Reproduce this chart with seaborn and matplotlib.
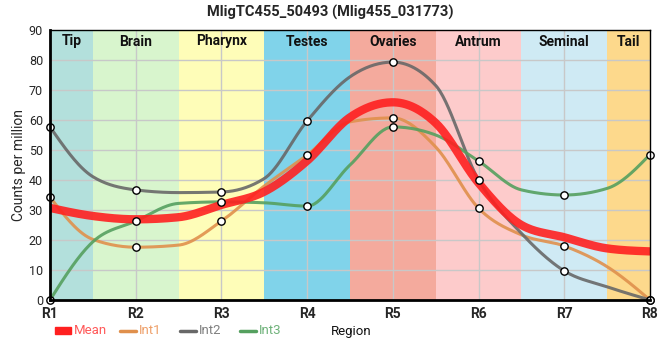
import numpy as np
import pandas as pd
import seaborn as sns
import matplotlib
matplotlib.use("Agg")
import matplotlib.pyplot as plt
from matplotlib.patches import Rectangle

# Data
regions = ["R1", "R2", "R3", "R4", "R5", "R6", "R7", "R8"]
mean = [30.7, 26.9, 31.7, 46.4, 65.9, 39.0, 20.9, 16.2]
int1 = [34.3, 17.6, 26.3, 48.3, 60.7, 30.6, 18.0, 0.0]
int2 = [57.7, 36.7, 36.0, 59.7, 79.3, 40.0, 9.7, 0.0]
int3 = [0.0, 26.3, 32.7, 31.3, 57.7, 46.3, 35.0, 48.5]

# line values read at the region borders (R1.5 ... R7.5)
mean_edge = [28.0, 27.6, 36.1, 60.9, 59.0, 25.0, 17.2]
int1_edge = [20.2, 18.3, 38.0, 59.4, 51.0, 21.7, 11.1]
int2_edge = [41.1, 35.8, 40.5, 74.4, 71.5, 22.2, 4.4]
int3_edge = [19.4, 32.2, 32.4, 45.0, 55.0, 36.7, 37.2]

band_names = ["Tip", "Brain", "Pharynx", "Testes", "Ovaries", "Antrum", "Seminal", "Tail"]
band_colors = ["#b3e0dc", "#d8f5cd", "#fefdb8", "#80d3ea", "#f4aa9d", "#fdcbcb", "#cfeaf4", "#fdd98c"]

series = {"Mean": (mean, mean_edge), "Int1": (int1, int1_edge),
          "Int2": (int2, int2_edge), "Int3": (int3, int3_edge)}
colors = {"Mean": "#ff2020", "Int1": "#e0904c", "Int2": "#686868", "Int3": "#55a05f"}
text_colors = {"Mean": "#ff5a5a", "Int1": "#eea06a", "Int2": "#808080", "Int3": "#6fb27a"}
widths = {"Mean": 6.0, "Int1": 2.2, "Int2": 2.2, "Int3": 2.2}


def monotone_path(xk, yk, n=30):
    # monotone cubic like d3.curveMonotoneX
    xk = np.asarray(xk, float)
    yk = np.asarray(yk, float)
    h = np.diff(xk)
    s = np.diff(yk) / h
    k = len(yk)
    m = np.zeros(k)
    for i in range(1, k - 1):
        p = (s[i - 1] * h[i] + s[i] * h[i - 1]) / (h[i - 1] + h[i])
        if s[i - 1] * s[i] > 0:
            m[i] = np.sign(s[i]) * min(abs(s[i - 1]), abs(s[i]), 0.5 * abs(p)) * 2
    m[0] = (3 * s[0] - m[1]) / 2
    m[-1] = (3 * s[-1] - m[-2]) / 2
    xs, ys = [], []
    t = np.linspace(0, 1, n, endpoint=False)
    for i in range(k - 1):
        h00 = 2 * t**3 - 3 * t**2 + 1
        h10 = t**3 - 2 * t**2 + t
        h01 = -2 * t**3 + 3 * t**2
        h11 = t**3 - t**2
        xs.append(xk[i] + t * h[i])
        ys.append(h00 * yk[i] + h10 * h[i] * m[i] + h01 * yk[i + 1] + h11 * h[i] * m[i + 1])
    xs.append([xk[-1]])
    ys.append([yk[-1]])
    return np.concatenate(xs), np.concatenate(ys)


rows = []
for name, (vals, edge) in series.items():
    xk, yk = [], []
    for i, v in enumerate(vals):
        xk.append(i)
        yk.append(v)
        if i < len(edge):
            xk.append(i + 0.5)
            yk.append(edge[i])
    xs, ys = monotone_path(xk, yk)
    for a, b in zip(xs, ys):
        rows.append({"x": a, "y": b, "series": name})
curves = pd.DataFrame(rows)

sns.set_style("white")
plt.rcParams["font.family"] = ["Roboto", "DejaVu Sans"]

fig = plt.figure(figsize=(6.6, 3.6), dpi=100)
ax = fig.add_axes([50 / 660, 60 / 360, 600 / 660, 270 / 360])

# region bands
edges = [0] + [i + 0.5 for i in range(7)] + [7]
for i, (nm, c) in enumerate(zip(band_names, band_colors)):
    ax.axvspan(edges[i], edges[i + 1], color=c, lw=0, zorder=0)
    ax.text((edges[i] + edges[i + 1]) / 2, 88.5, nm, ha="center", va="top",
            fontsize=10, fontweight="bold", color="#111111", zorder=5)

for v in range(10, 90, 10):
    ax.axhline(v, color="#c8c8c8", lw=1, zorder=1)
for v in range(1, 7):
    ax.axvline(v, color="#c8c8c8", lw=1, zorder=1)

for name in ["Int1", "Int2", "Int3", "Mean"]:
    sub = curves[curves["series"] == name]
    sns.lineplot(data=sub, x="x", y="y", ax=ax, color=colors[name],
                 lw=widths[name], alpha=0.9, sort=False, estimator=None, zorder=3)

for name in ["Int1", "Int2", "Int3"]:
    pts = pd.DataFrame({"x": np.arange(len(regions)), "y": series[name][0]})
    sns.scatterplot(data=pts, x="x", y="y", ax=ax, s=28, facecolor="white",
                    edgecolor="black", linewidth=1, zorder=4, clip_on=False)

ax.set_xlim(0, 7)
ax.set_ylim(0, 90)
ax.set_xticks(range(len(regions)))
ax.set_xticklabels(regions, fontsize=10, fontweight="bold")
ax.set_yticks(range(0, 91, 10))
ax.tick_params(axis="y", labelsize=9, length=4, width=1, pad=1)
ax.tick_params(axis="x", length=4, width=1, pad=1)
ax.set_xlabel("")
ax.set_ylabel("Counts per million", fontsize=10, labelpad=2)
for s in ["left", "bottom"]:
    ax.spines[s].set_linewidth(2)
for s in ["top", "right"]:
    ax.spines[s].set_linewidth(1)
for s in ax.spines.values():
    s.set_color("black")
    s.set_zorder(6)

fig.suptitle("MligTC455_50493 (Mlig455_031773)", fontsize=10.5, fontweight="bold", y=0.985)

# legend row, laid out in pixel units of the figure
lg = fig.add_axes([0, 0, 1, 1], facecolor="none")
lg.set_xlim(0, 660)
lg.set_ylim(360, 0)
lg.axis("off")
lg.add_patch(Rectangle((55, 327), 16, 7, color=colors["Mean"]))
lg.text(74, 331, "Mean", color=text_colors["Mean"], fontsize=9.5, va="center")
for name, x0 in [("Int1", 120), ("Int2", 180), ("Int3", 240)]:
    lg.plot([x0, x0 + 16], [331, 331], color=colors[name], lw=2.5)
    lg.text(x0 + 19, 331, name, color=text_colors[name], fontsize=9.5, va="center")
lg.text(351, 332, "Region", ha="center", va="center", fontsize=9.5, color="#111111")

fig.savefig("out.png", dpi=100)
